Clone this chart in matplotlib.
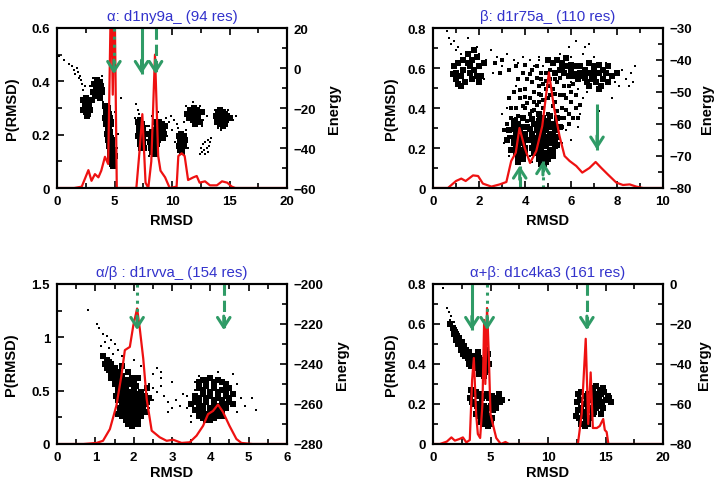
import matplotlib
matplotlib.use("Agg")
import matplotlib.pyplot as plt
from matplotlib.ticker import MultipleLocator, FuncFormatter

plt.rcParams['font.family'] = ['Liberation Sans', 'DejaVu Sans']

# ---------------- data: alpha panel ----------------
a_title = "α: d1ny9a_ (94 res)"
a_rmsd = [0, 1.5, 2.15, 2.73, 3.0, 3.3, 3.6, 3.85, 4.17, 4.45, 4.7, 4.85, 5.0, 5.2, 6.9,
          7.2, 7.42, 7.7, 7.94, 8.2, 8.52, 8.8, 9.0, 9.4, 9.8, 10.4, 10.55, 10.84, 11.1,
          11.4, 11.86, 12.15, 12.4, 12.87, 13.3, 13.9, 14.35, 14.8, 15.2, 15.5, 20]
a_prob = [0, 0, 0.005, 0.067, 0.027, 0.052, 0.04, 0.065, 0.117, 0.09, 0.75, 0.35, 0.75, 0, 0,
          0.15, 0.277, 0.02, 0, 0.1, 0.5, 0.12, 0.065, 0.04, 0.0, 0.005, 0.12, 0.13, 0.12,
          0.03, 0.04, 0.045, 0.02, 0.025, 0.01, 0.01, 0.025, 0.02, 0.005, 0, 0]
a_sparse = [(0.2, 6), (0.6, 4), (1.0, 2), (1.3, 1), (1.5, -1), (1.6, -3), (1.8, -2), (1.9, -5),
            (2.1, -6), (2.2, -8), (2.0, -4), (1.7, 0), (2.4, -9), (2.3, -11),
            (3.1, -5), (3.9, -4), (4.1, -10), (2.9, -9),
            (4.0, -17), (4.9, -26), (5.1, -30), (5.3, -33), (5.2, -40), (4.1, -24), (5.6, -15), (5.0, -22),
            (6.9, -18), (7.0, -21), (7.1, -23), (6.8, -25), (7.8, -29), (7.7, -36),
            (8.0, -29), (8.3, -24), (8.8, -22), (9.5, -25), (9.7, -27), (9.9, -24), (10.2, -26),
            (10.4, -28), (10.0, -31), (9.6, -34), (8.0, -44),
            (10.5, -30), (11.2, -31), (10.3, -37), (11.4, -40),
            (11.2, -19), (11.8, -17), (12.7, -26), (13.0, -24), (12.4, -19), (11.0, -27), (12.6, -29),
            (12.5, -40), (12.7, -38), (12.9, -37), (13.1, -36), (13.3, -37), (12.6, -42), (12.8, -41),
            (13.0, -40), (13.2, -39), (12.4, -43), (12.9, -43), (13.4, -35), (13.1, -42),
            (15.3, -26), (15.6, -24), (14.9, -21), (13.7, -21), (14.3, -31), (14.0, -30)]
a_dense = [(2.3, -16), (2.5, -15), (2.7, -17), (2.4, -19), (2.6, -20), (2.8, -19), (2.5, -22), (2.7, -23),
           (2.9, -21), (2.3, -21), (2.6, -24), (2.8, -16),
           (3.2, -8), (3.5, -6), (3.7, -7), (3.4, -10), (3.6, -11), (3.8, -9), (3.1, -12), (3.3, -14),
           (3.5, -13), (3.7, -15), (3.9, -12), (3.0, -16),
           (4.2, -19), (4.4, -20), (4.3, -22), (4.5, -23), (4.2, -25), (4.4, -26), (4.6, -25), (4.3, -28),
           (4.5, -29), (4.7, -28), (4.4, -31), (4.6, -32), (4.5, -34), (4.7, -35), (4.6, -37), (4.8, -38),
           (4.5, -39), (4.7, -40), (4.9, -41), (4.6, -42), (4.8, -43), (4.7, -45), (4.9, -46), (4.8, -48),
           (5.0, -44), (4.9, -49), (4.6, -46), (4.4, -36),
           (4.3, -24), (4.5, -27), (4.35, -33), (4.55, -30), (4.65, -39), (4.75, -42), (4.85, -45),
           (4.65, -44), (4.8, -36), (4.55, -36), (4.75, -47), (4.9, -43),
           (7.0, -27), (7.2, -26), (7.4, -28), (7.1, -30), (7.3, -31), (7.5, -30), (7.2, -33), (7.4, -34),
           (7.6, -33), (7.3, -36), (7.5, -37), (7.4, -39), (7.6, -40), (7.2, -38), (7.0, -34),
           (7.1, -28), (7.3, -29), (7.5, -32), (7.2, -35), (7.4, -37), (7.3, -40), (7.5, -35), (7.1, -32),
           (8.1, -33), (8.3, -32), (8.5, -31), (8.2, -35), (8.4, -36), (8.6, -35), (8.3, -38), (8.5, -39),
           (8.7, -38), (8.4, -41), (8.6, -42), (8.8, -33), (9.0, -30), (9.2, -31), (9.1, -28), (8.9, -27),
           (9.3, -33), (9.0, -35), (8.7, -29), (8.2, -40), (9.4, -29), (8.5, -27),
           (8.3, -34), (8.5, -37), (8.4, -39), (8.6, -40), (8.7, -32), (8.9, -31), (9.1, -33), (8.8, -36),
           (8.3, -42), (8.5, -43), (8.1, -37), (9.2, -35),
           (10.6, -34), (10.8, -33), (11.0, -34), (10.7, -36), (10.9, -37), (11.1, -36), (10.6, -39),
           (10.8, -40), (11.0, -39), (10.9, -42), (10.7, -41),
           (11.6, -21), (11.9, -20), (12.2, -21), (11.7, -23), (12.0, -23), (12.3, -24), (11.5, -25),
           (11.8, -26), (12.1, -26), (12.4, -27), (12.0, -28), (12.6, -22), (11.3, -23),
           (13.8, -24), (14.0, -22), (14.2, -21), (14.4, -22), (14.6, -23), (14.1, -25), (14.3, -26),
           (14.5, -25), (14.7, -26), (13.9, -27), (14.2, -28), (14.4, -29), (14.6, -28), (14.8, -24),
           (15.0, -25)]
a_medium = []
a_arrow_x = [4.95, 7.35, 8.57]
a_arrow_from = [20, 20, 20]
a_arrow_to = [-3, -3, -3]
a_arrow_ls = [':', '-', '--']

# ---------------- data: beta panel ----------------
b_title = "β: d1r75a_ (110 res)"
b_rmsd = [0, 0.43, 0.65, 1.0, 1.23, 1.42, 1.74, 1.96, 2.17, 2.54, 2.9, 3.19, 3.4, 3.6, 3.76, 3.99,
          4.22, 4.49, 4.75, 5.04, 5.25, 5.5, 5.72, 5.94, 6.23, 6.49, 6.8, 7.07, 7.32, 7.6, 7.97,
          8.26, 8.55, 8.84, 9.13, 10]
b_prob = [0, 0, 0, 0.035, 0.047, 0.035, 0.063, 0.06, 0.022, 0.007, 0.018, 0.03, 0.135, 0.177, 0.30,
          0.2, 0.125, 0.185, 0.31, 0.578, 0.41, 0.26, 0.16, 0.135, 0.11, 0.077, 0.10, 0.13, 0.10,
          0.068, 0.027, 0.015, 0.018, 0.007, 0, 0]
b_sparse = [(0.6, -31), (0.7, -33), (0.8, -35), (0.9, -34), (1.0, -37), (1.1, -36), (1.2, -38), (1.5, -33),
            (1.9, -36), (2.0, -38), (2.5, -37), (2.8, -39), (2.3, -40), (3.2, -38), (3.5, -40), (3.0, -42),
            (3.7, -41), (3.9, -39), (4.2, -40), (4.4, -42), (4.6, -39), (2.2, -46), (2.6, -44),
            (4.6, -40), (4.8, -42), (5.5, -38), (6.0, -39), (6.5, -38), (7.0, -39), (7.5, -41), (7.9, -47),
            (8.2, -43), (8.4, -46), (8.6, -44), (8.8, -42), (8.7, -47), (6.3, -49), (6.7, -50), (7.8, -52),
            (8.1, -48), (6.6, -36), (6.2, -34), (5.9, -36), (6.8, -35), (7.2, -56), (8.5, -48), (6.0, -47),
            (3.1, -66), (3.3, -70), (4.2, -70), (5.6, -66), (5.8, -62), (6.0, -65), (6.3, -61), (4.9, -73),
            (3.8, -74), (4.3, -72), (3.0, -57), (3.2, -55), (6.4, -57), (6.5, -52), (3.6, -48)]
b_medium = [(4.0, -55), (4.2, -52), (4.4, -50), (4.6, -48), (4.3, -56), (4.5, -54), (4.7, -51), (4.9, -49),
            (5.1, -46), (4.8, -55), (5.0, -52), (5.2, -49), (5.4, -47), (3.9, -58), (4.1, -59), (5.3, -53),
            (5.5, -51), (5.7, -48), (5.6, -55), (5.8, -52), (6.0, -50), (3.6, -55), (3.8, -52), (4.0, -49),
            (3.4, -58), (3.2, -60), (3.5, -62), (3.3, -64), (6.2, -55), (5.9, -60), (6.1, -58), (4.6, -58),
            (5.0, -57), (4.1, -53.5), (4.3, -47), (4.5, -45.5), (4.7, -46), (4.9, -44), (5.2, -54.5),
            (5.4, -56), (4.4, -53), (4.8, -52.5), (4.6, -50.5), (5.0, -48), (5.3, -50.5), (5.5, -45.5),
            (3.7, -57.5), (3.9, -54.5), (4.2, -57), (5.7, -58), (5.6, -61), (3.8, -49.5),
            (3.3, -52), (3.5, -50), (3.7, -46), (3.9, -44), (4.1, -46), (4.3, -43), (4.5, -42), (4.7, -44),
            (4.9, -46.5), (5.1, -43), (5.3, -46), (3.6, -58.5), (3.4, -55), (3.1, -62), (5.8, -55.5),
            (6.0, -53), (6.2, -51), (6.4, -54), (6.3, -58), (5.9, -57), (5.5, -58), (5.7, -51), (5.9, -48),
            (6.1, -47.5), (3.0, -40), (3.3, -43), (3.6, -42), (4.0, -41.5), (4.2, -44.5), (2.7, -41),
            (2.9, -44), (4.4, -55.5), (4.0, -51.5), (4.6, -53), (5.1, -51), (4.8, -47.5)]
b_dense = [(0.9, -42), (1.0, -44), (1.1, -41), (1.2, -45), (1.3, -43), (1.4, -47), (1.5, -41), (1.6, -44),
           (1.7, -40), (1.8, -43), (1.9, -39), (2.0, -42), (1.7, -46), (1.5, -38), (1.8, -37), (1.2, -48),
           (1.0, -46), (2.1, -45), (1.6, -42), (1.9, -45), (1.3, -40), (2.2, -41), (0.85, -44.5),
           (1.1, -47.5), (2.0, -47),
           (5.0, -40), (5.2, -41), (5.4, -40), (5.6, -41), (5.8, -42), (6.0, -43), (6.2, -42), (6.4, -44),
           (6.6, -43), (6.8, -44), (7.0, -45), (7.2, -44), (7.4, -46), (6.1, -45), (6.3, -46), (6.5, -45),
           (6.7, -47), (6.9, -46), (7.1, -47), (7.3, -48), (7.5, -44), (5.5, -43), (5.7, -44), (5.9, -45),
           (6.8, -41), (7.0, -42), (7.6, -42), (7.8, -45), (8.0, -44), (5.3, -44), (7.2, -49),
           (3.5, -61), (3.7, -60), (3.9, -61), (3.6, -63), (3.8, -64), (4.0, -63), (3.5, -66), (3.7, -67),
           (3.9, -66), (3.6, -69), (3.8, -70), (4.0, -69), (3.7, -72), (3.4, -68), (4.1, -65), (3.9, -58),
           (4.1, -61),
           (3.6, -61.5), (3.8, -62), (3.5, -64.5), (3.7, -65), (3.9, -64), (4.0, -67.5), (3.6, -67.5),
           (3.8, -68), (3.7, -70.5), (3.9, -71), (3.5, -59), (3.3, -62), (3.2, -65),
           (4.4, -60), (4.6, -59), (4.8, -58), (5.0, -59), (5.2, -60), (4.3, -63), (4.5, -62), (4.7, -62),
           (4.9, -62), (5.1, -63), (5.3, -62), (4.4, -66), (4.6, -65), (4.8, -65), (5.0, -66), (5.2, -65),
           (5.4, -64), (4.5, -68), (4.7, -68), (4.9, -69), (5.1, -68), (5.3, -67), (4.6, -71), (4.8, -71),
           (5.0, -71), (5.2, -70), (4.4, -69), (5.5, -61), (5.4, -58), (4.2, -65),
           (4.5, -60.5), (4.7, -60.5), (4.9, -60), (5.1, -61), (5.3, -60), (4.4, -64.5), (4.6, -63.5),
           (4.8, -63.5), (5.0, -64), (5.2, -63.5), (4.5, -66.5), (4.7, -66.5), (4.9, -67), (5.1, -66),
           (5.3, -65.5), (4.6, -69.5), (4.8, -69.5), (5.0, -69), (5.2, -68.5), (4.7, -72.5), (4.9, -72),
           (4.3, -67.5), (5.4, -66.5), (4.2, -61.5), (4.3, -58.5), (4.6, -57), (5.1, -57.5),
           (6.0, -41.5), (6.4, -42), (6.2, -44.5), (6.6, -45.5), (7.0, -43.5), (7.4, -43), (6.8, -48),
           (7.6, -47), (5.6, -42.5), (5.8, -39.5), (7.2, -41.5)]
b_arrow_x = [7.13, 3.77, 4.78]
b_arrow_from = [-53.8, -80, -80]
b_arrow_to = [-68, -73, -71.6]
b_arrow_ls = ['-', '--', ':']

# ---------------- data: alpha/beta panel ----------------
c_title = "α/β : d1rvva_ (154 res)"
c_rmsd = [0, 0.69, 1.03, 1.2, 1.38, 1.55, 1.68, 1.77, 1.9, 1.99, 2.09, 2.16, 2.25, 2.34, 2.47, 2.68,
          2.86, 3.03, 3.25, 3.46, 3.64, 3.81, 3.94, 4.07, 4.2, 4.33, 4.5, 4.68, 4.81, 5.1, 6]
c_prob = [0, 0, 0.01, 0.03, 0.14, 0.36, 0.64, 0.88, 0.91, 1.11, 1.27, 1.08, 0.80, 0.42, 0.125, 0.063,
          0.03, 0.04, 0.01, 0.016, 0.078, 0.17, 0.28, 0.31, 0.37, 0.30, 0.17, 0.047, 0.01, 0, 0]
c_sparse = [(0.82, -213), (1.05, -220), (1.1, -222), (1.2, -225), (1.3, -226), (1.25, -229), (1.4, -228),
            (1.5, -230), (1.15, -231), (1.35, -232), (1.6, -233), (1.45, -235), (1.7, -236), (2.6, -242),
            (2.7, -244), (2.5, -245), (2.2, -241), (2.0, -238),
            (2.4, -250), (2.5, -252), (2.6, -254), (2.7, -251), (2.8, -256), (2.5, -258), (2.9, -259),
            (3.0, -262), (3.1, -258), (2.9, -264), (3.2, -261), (2.7, -247), (3.0, -249), (3.3, -255),
            (2.4, -262),
            (3.4, -262), (3.5, -266), (3.4, -256), (3.6, -249), (3.7, -246), (4.2, -244), (4.6, -245),
            (4.7, -250), (4.8, -257), (4.9, -261), (5.1, -257), (5.2, -263), (4.7, -264), (3.5, -269),
            (3.6, -253)]
c_medium = []
c_dense = [(1.2, -236), (1.3, -238), (1.4, -240), (1.35, -243), (1.45, -245), (1.5, -242), (1.55, -247),
           (1.6, -244), (1.65, -249), (1.7, -246), (1.75, -251), (1.8, -248), (1.5, -250), (1.6, -252),
           (1.85, -244), (1.4, -247), (1.9, -250), (1.7, -241), (2.0, -249), (2.1, -247),
           (1.25, -240), (1.35, -239), (1.45, -242), (1.55, -244), (1.65, -246), (1.75, -248), (1.85, -250),
           (1.5, -247), (1.6, -249), (1.7, -251), (1.8, -252), (1.95, -247), (2.05, -251), (1.3, -242),
           (1.4, -245),
           (1.6, -254), (1.7, -253), (1.8, -255), (1.9, -254), (2.0, -253), (2.1, -255), (2.2, -254),
           (2.3, -256), (1.6, -258), (1.7, -257), (1.8, -259), (1.9, -258), (2.0, -260), (2.1, -259),
           (2.2, -258), (2.3, -260), (1.65, -262), (1.75, -261), (1.85, -263), (1.95, -262), (2.05, -264),
           (2.15, -263), (2.25, -262), (1.7, -266), (1.8, -265), (1.9, -267), (2.0, -266), (2.1, -268),
           (2.2, -266), (1.85, -270), (1.95, -271), (2.05, -270), (2.4, -257), (2.35, -252), (1.55, -256),
           (1.6, -265),
           (1.65, -256), (1.75, -255.5), (1.85, -257), (1.95, -256), (2.05, -257), (2.15, -257),
           (2.25, -258), (1.7, -260), (1.8, -261), (1.9, -260.5), (2.0, -262), (2.1, -261.5), (2.2, -260),
           (1.75, -264), (1.85, -265.5), (1.95, -265), (2.05, -266.5), (2.15, -265.5), (1.8, -268),
           (1.9, -269), (2.0, -268.5), (2.1, -270), (1.7, -263.5), (2.3, -264), (2.35, -259),
           (3.8, -248), (4.0, -247), (4.2, -248), (4.4, -250), (3.7, -252), (3.9, -251), (4.1, -252),
           (4.3, -253), (4.5, -252), (3.6, -256), (3.8, -255), (4.0, -256), (4.2, -257), (4.4, -256),
           (4.6, -255), (3.7, -260), (3.9, -259), (4.1, -261), (4.3, -260), (4.5, -259), (3.6, -263),
           (3.8, -264), (4.0, -265), (4.2, -263), (4.4, -262), (3.9, -268), (4.1, -267), (3.7, -266),
           (4.3, -266), (3.5, -260), (4.6, -260),
           (3.7, -249), (3.9, -248), (4.1, -249), (4.3, -249), (3.8, -253), (4.0, -254), (4.2, -254),
           (4.4, -253), (3.7, -257), (3.9, -257), (4.1, -258), (4.3, -258), (4.5, -257), (3.8, -261),
           (4.0, -262), (4.2, -261), (4.4, -260), (3.7, -263), (3.9, -265), (4.1, -264), (4.3, -263),
           (4.0, -268), (3.8, -267), (4.2, -266), (3.6, -259)]
c_arrow_x = [2.09, 4.35]
c_arrow_from = [-200, -200]
c_arrow_to = [-223, -223]
c_arrow_ls = [':', '--']

# ---------------- data: alpha+beta panel ----------------
d_title = "α+β: d1c4ka3 (161 res)"
d_rmsd = [0, 0.6, 1.2, 1.6, 1.9, 2.3, 2.6, 2.9, 3.2, 3.4, 3.55, 3.75, 3.9, 4.1, 4.3, 4.45, 4.55, 4.7,
          4.85, 5.0, 5.2, 5.5, 5.9, 6.3, 6.6, 12.6, 12.93, 13.28, 13.5, 13.71, 13.9, 14.25, 14.5,
          14.8, 14.94, 15.1, 15.25, 20]
d_prob = [0, 0, 0.012, 0.033, 0.017, 0.025, 0.033, 0.008, 0.02, 0.32, 0.43, 0.15, 0.05, 0.03, 0.2,
          0.62, 0.3, 0.68, 0.45, 0.15, 0.1, 0.03, 0.0, 0.01, 0, 0, 0.15, 0.526, 0.1, 0.358, 0.08, 0.08,
          0.09, 0.125, 0.07, 0.06, 0, 0]
d_sparse = [(0.9, -2), (1.2, -12), (1.4, -14), (1.6, -16), (1.5, -18), (1.8, -19), (1.7, -21), (2.0, -22),
            (2.2, -24), (6.2, -57), (6.6, -58), (5.9, -56), (6.0, -60)]
d_medium = []
d_dense = [(1.5, -20), (1.7, -22), (1.9, -24), (2.1, -26), (2.3, -27), (2.5, -29), (2.2, -30), (2.7, -31),
           (2.9, -33), (2.4, -33), (3.1, -34), (2.6, -35), (3.3, -36), (2.0, -28), (1.8, -25),
           (2.8, -36), (3.0, -37), (3.2, -38), (3.4, -37), (3.6, -36), (3.8, -38), (4.0, -37), (4.2, -39),
           (4.4, -38), (4.6, -37), (3.1, -40), (3.3, -41), (3.5, -40), (3.7, -42), (3.9, -41), (4.1, -43),
           (4.3, -42), (4.5, -44), (4.7, -43), (4.9, -40), (4.4, -46), (4.0, -45), (4.8, -35), (4.6, -33),
           (3.9, -34),
           (3.3, -53), (3.5, -55), (3.7, -54), (3.9, -56), (4.1, -55), (4.3, -57), (4.5, -56), (4.7, -55),
           (4.9, -57), (5.1, -56), (5.3, -58), (3.4, -59), (3.6, -60), (3.8, -61), (4.0, -60), (4.2, -62),
           (4.4, -61), (4.6, -63), (4.8, -62), (5.0, -61), (5.2, -63), (5.4, -60), (3.7, -65), (3.9, -64),
           (4.1, -66), (4.3, -65), (4.5, -67), (4.7, -66), (4.9, -68), (5.1, -67), (4.2, -69), (4.4, -70),
           (4.6, -70), (4.8, -71), (5.0, -70), (5.6, -57), (5.8, -59), (5.5, -62), (5.7, -55), (6.0, -58),
           (3.2, -57),
           (12.6, -55), (12.9, -54), (13.2, -56), (13.5, -55), (12.5, -59), (12.8, -58), (13.1, -60),
           (13.4, -59), (13.7, -58), (12.6, -63), (12.9, -62), (13.2, -64), (13.5, -63), (13.8, -62),
           (12.7, -67), (13.0, -66), (13.3, -68), (13.6, -67), (12.9, -70), (13.2, -71), (13.5, -70),
           (12.4, -66), (13.9, -65),
           (13.9, -52), (14.2, -51), (14.5, -53), (14.8, -52), (14.0, -55), (14.3, -56), (14.6, -55),
           (14.9, -54), (15.2, -56), (14.1, -59), (14.4, -58), (14.7, -59), (15.0, -58), (15.3, -57),
           (14.2, -62), (14.5, -61), (14.8, -62), (15.5, -59), (14.0, -64), (14.6, -65)]
d_arrow_x = [3.38, 4.71, 13.38]
d_arrow_from = [0, 0, 0]
d_arrow_to = [-23, -23, -23]
d_arrow_ls = ['-', ':', '--']

# ---------------- drawing ----------------
RED = '#ee1111'
GREEN = '#2f9b66'
BLUE = '#3333cc'


def fmt(v, pos):
    s = '{:g}'.format(round(v, 6))
    return s.replace('-', '\u2212')


def xs(pts):
    return [p[0] for p in pts]


def ys(pts):
    return [p[1] for p in pts]


def panel(rect, title, rmsd, prob, sparse, medium, dense, ax_x, ax_from, ax_to, ax_ls,
          xlim, xmaj, plim, pmaj, elim, emaj, dense_ms):
    ax = fig.add_axes(rect)
    ax2 = ax.twinx()
    ax.set_zorder(ax2.get_zorder() + 1)
    ax.patch.set_visible(False)

    ax2.plot(xs(sparse), ys(sparse), 's', ms=1.8, mew=0, color='black')
    if medium:
        ax2.plot(xs(medium), ys(medium), 's', ms=2.8, mew=0, color='black')
    ax2.plot(xs(dense), ys(dense), 's', ms=dense_ms, mew=0, color='black')
    ax.plot(rmsd, prob, '-', color=RED, lw=1.6)

    for x, y0, y1, ls in zip(ax_x, ax_from, ax_to, ax_ls):
        sgn = 1 if y0 > y1 else -1
        ax.plot([x, x], [y0, y1], transform=ax2.transData, color=GREEN, lw=2.2, ls=ls,
                solid_capstyle='butt', clip_on=False)
        ax.annotate('', xy=(x, y1), xycoords=ax2.transData,
                    xytext=(0, sgn * 10), textcoords='offset points',
                    arrowprops=dict(arrowstyle='->,head_length=0.7,head_width=0.45', color=GREEN,
                                    lw=2.2, shrinkA=0, shrinkB=0, mutation_scale=10))

    ax.set_xlim(*xlim)
    ax.set_ylim(*plim)
    ax2.set_ylim(*elim)
    ax.xaxis.set_major_locator(MultipleLocator(xmaj))
    ax.xaxis.set_minor_locator(MultipleLocator(xmaj / 2))
    ax.yaxis.set_major_locator(MultipleLocator(pmaj))
    ax.yaxis.set_minor_locator(MultipleLocator(pmaj / 2))
    ax2.yaxis.set_major_locator(MultipleLocator(emaj))
    ax2.yaxis.set_minor_locator(MultipleLocator(emaj / 2))
    for a in (ax, ax2):
        a.xaxis.set_major_formatter(FuncFormatter(fmt))
        a.yaxis.set_major_formatter(FuncFormatter(fmt))
        for sp in a.spines.values():
            sp.set_linewidth(1.5)
    ax.tick_params(which='both', direction='in', top=True, right=False, width=1.2)
    ax.tick_params(which='major', length=5, labelsize=9.5, pad=5)
    ax.tick_params(which='minor', length=3.5)
    ax2.tick_params(which='both', direction='in', width=1.2)
    ax2.tick_params(which='major', length=5, labelsize=9.5, pad=5)
    ax2.tick_params(which='minor', length=3.5)
    for lab in ax.get_xticklabels() + ax.get_yticklabels() + ax2.get_yticklabels():
        lab.set_fontweight('bold')

    ax.set_title(title, color=BLUE, fontsize=10.8, pad=6)
    ax.set_ylabel('P(RMSD)', fontsize=10.5, fontweight='bold')
    ax2.set_ylabel('Energy', fontsize=10.5, fontweight='bold')
    ax.set_xlabel('RMSD', fontsize=10.5, fontweight='bold')
    return ax, ax2


fig = plt.figure(figsize=(7.2, 4.89), dpi=100)

W = 230 / 720
H = 160 / 489
axA, axA2 = panel([57 / 720, 300 / 489, W, H], a_title, a_rmsd, a_prob, a_sparse, a_medium, a_dense,
                  a_arrow_x, a_arrow_from, a_arrow_to, a_arrow_ls,
                  (0, 20), 5, (0, 0.6), 0.2, (-60, 20), 20, 4.0)
axB, axB2 = panel([433 / 720, 300 / 489, W, H], b_title, b_rmsd, b_prob, b_sparse, b_medium, b_dense,
                  b_arrow_x, b_arrow_from, b_arrow_to, b_arrow_ls,
                  (0, 10), 2, (0, 0.8), 0.2, (-80, -30), 10, 4.8)
axC, axC2 = panel([57 / 720, 44 / 489, W, H], c_title, c_rmsd, c_prob, c_sparse, c_medium, c_dense,
                  c_arrow_x, c_arrow_from, c_arrow_to, c_arrow_ls,
                  (0, 6), 1, (0, 1.5), 0.5, (-280, -200), 20, 4.2)
axD, axD2 = panel([433 / 720, 44 / 489, W, H], d_title, d_rmsd, d_prob, d_sparse, d_medium, d_dense,
                  d_arrow_x, d_arrow_from, d_arrow_to, d_arrow_ls,
                  (0, 20), 5, (0, 0.8), 0.2, (-80, 0), 20, 4.0)

axA.yaxis.set_label_coords(-0.165, 0.5)
axC.yaxis.set_label_coords(-0.17, 0.5)
axB.yaxis.set_label_coords(-0.152, 0.5)
axD.yaxis.set_label_coords(-0.152, 0.5)
axA2.yaxis.set_label_coords(1.174, 0.5)
axC2.yaxis.set_label_coords(1.21, 0.5)
axB2.yaxis.set_label_coords(1.16, 0.5)
axD2.yaxis.set_label_coords(1.15, 0.5)
for ax in (axA, axB):
    ax.xaxis.set_label_coords(0.5, -0.155)
for ax in (axC, axD):
    ax.xaxis.set_label_coords(0.5, -0.13)

fig.savefig('out.png', dpi=100)
